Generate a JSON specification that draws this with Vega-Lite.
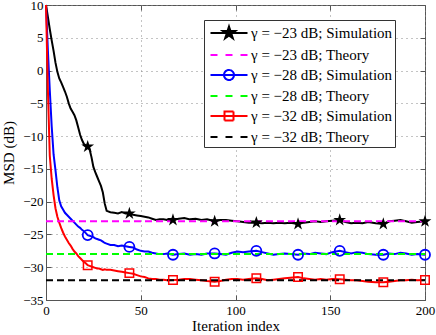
{
  "$schema": "https://vega.github.io/schema/vega-lite/v6.json",
  "width": 379,
  "height": 295,
  "autosize": "none",
  "padding": {"left": 46, "top": 5, "right": 11, "bottom": 35},
  "background": "white",
  "config": {
    "font": "Liberation Serif",
    "view": {"stroke": "#555", "strokeWidth": 1}
  },
  "datasets": {
    "sim": [
      {"iter": 0, "sim23": 10, "sim28": 10, "sim32": 10, "mk": false},
      {"iter": 1, "sim23": 8.2, "sim28": 3.0, "sim32": -3.0, "mk": false},
      {"iter": 2, "sim23": 6.3, "sim28": -3.0, "sim32": -13.0, "mk": false},
      {"iter": 3, "sim23": 4.6, "sim28": -8.5, "sim32": -16.5, "mk": false},
      {"iter": 4, "sim23": 3.0, "sim28": -12.8, "sim32": -19.0, "mk": false},
      {"iter": 5, "sim23": 1.2, "sim28": -15.2, "sim32": -21.0, "mk": false},
      {"iter": 6, "sim23": -0.2, "sim28": -17.8, "sim32": -22.3, "mk": false},
      {"iter": 7, "sim23": -1.2, "sim28": -19.8, "sim32": -23.2, "mk": false},
      {"iter": 8, "sim23": -1.8, "sim28": -20.7, "sim32": -24.0, "mk": false},
      {"iter": 9, "sim23": -2.5, "sim28": -21.2, "sim32": -24.7, "mk": false},
      {"iter": 10, "sim23": -3.2, "sim28": -21.7, "sim32": -25.3, "mk": false},
      {"iter": 11, "sim23": -4.0, "sim28": -22.0, "sim32": -25.8, "mk": false},
      {"iter": 12, "sim23": -5.0, "sim28": -22.3, "sim32": -26.3, "mk": false},
      {"iter": 13, "sim23": -5.8, "sim28": -22.6, "sim32": -26.7, "mk": false},
      {"iter": 14, "sim23": -6.3, "sim28": -22.9, "sim32": -27.2, "mk": false},
      {"iter": 15, "sim23": -6.8, "sim28": -23.2, "sim32": -27.6, "mk": false},
      {"iter": 16, "sim23": -7.6, "sim28": -23.5, "sim32": -27.9, "mk": false},
      {"iter": 17, "sim23": -8.7, "sim28": -23.8, "sim32": -28.3, "mk": false},
      {"iter": 18, "sim23": -9.8, "sim28": -24.0, "sim32": -28.6, "mk": false},
      {"iter": 19, "sim23": -10.6, "sim28": -24.3, "sim32": -28.9, "mk": false},
      {"iter": 20, "sim23": -11.2, "sim28": -24.5, "sim32": -29.2, "mk": false},
      {"iter": 21, "sim23": -11.4, "sim28": -24.8, "sim32": -29.4, "mk": false},
      {"iter": 22, "sim23": -11.6, "sim28": -25.1, "sim32": -29.7, "mk": true},
      {"iter": 23, "sim23": -12.0, "sim28": -25.2, "sim32": -29.8, "mk": false},
      {"iter": 24, "sim23": -13.2, "sim28": -25.3, "sim32": -29.9, "mk": false},
      {"iter": 25, "sim23": -14.7, "sim28": -25.4, "sim32": -30.0, "mk": false},
      {"iter": 26, "sim23": -15.5, "sim28": -25.6, "sim32": -30.1, "mk": false},
      {"iter": 27, "sim23": -16.2, "sim28": -25.7, "sim32": -30.2, "mk": false},
      {"iter": 28, "sim23": -16.9, "sim28": -25.8, "sim32": -30.2, "mk": false},
      {"iter": 29, "sim23": -17.6, "sim28": -25.9, "sim32": -30.3, "mk": false},
      {"iter": 30, "sim23": -18.6, "sim28": -26.1, "sim32": -30.4, "mk": false},
      {"iter": 31, "sim23": -20.3, "sim28": -26.3, "sim32": -30.3, "mk": false},
      {"iter": 32, "sim23": -21.4, "sim28": -26.4, "sim32": -30.4, "mk": false},
      {"iter": 34, "sim23": -21.6, "sim28": -26.6, "sim32": -30.4, "mk": false},
      {"iter": 36, "sim23": -21.7, "sim28": -26.6, "sim32": -30.5, "mk": false},
      {"iter": 38, "sim23": -21.8, "sim28": -26.8, "sim32": -30.6, "mk": false},
      {"iter": 40, "sim23": -21.6, "sim28": -26.7, "sim32": -30.7, "mk": false},
      {"iter": 42, "sim23": -21.8, "sim28": -26.8, "sim32": -30.8, "mk": false},
      {"iter": 44, "sim23": -21.8, "sim28": -26.9, "sim32": -30.9, "mk": true},
      {"iter": 46, "sim23": -22.0, "sim28": -27.0, "sim32": -31.0, "mk": false},
      {"iter": 48, "sim23": -22.1, "sim28": -27.3, "sim32": -31.2, "mk": false},
      {"iter": 50, "sim23": -22.2, "sim28": -27.5, "sim32": -31.4, "mk": false},
      {"iter": 52, "sim23": -22.3, "sim28": -27.6, "sim32": -31.5, "mk": false},
      {"iter": 54, "sim23": -22.4, "sim28": -27.6, "sim32": -31.7, "mk": false},
      {"iter": 56, "sim23": -22.6, "sim28": -27.8, "sim32": -31.8, "mk": false},
      {"iter": 58, "sim23": -22.8, "sim28": -27.9, "sim32": -31.8, "mk": false},
      {"iter": 60, "sim23": -22.7, "sim28": -28.0, "sim32": -31.9, "mk": false},
      {"iter": 62, "sim23": -22.7, "sim28": -28.0, "sim32": -31.9, "mk": false},
      {"iter": 64, "sim23": -22.8, "sim28": -27.9, "sim32": -32.0, "mk": false},
      {"iter": 67, "sim23": -22.8, "sim28": -28.1, "sim32": -31.95, "mk": true},
      {"iter": 70, "sim23": -22.6, "sim28": -28.0, "sim32": -31.9, "mk": false},
      {"iter": 73, "sim23": -22.5, "sim28": -27.9, "sim32": -31.8, "mk": false},
      {"iter": 76, "sim23": -22.7, "sim28": -28.1, "sim32": -31.8, "mk": false},
      {"iter": 79, "sim23": -22.6, "sim28": -28.0, "sim32": -31.9, "mk": false},
      {"iter": 82, "sim23": -22.8, "sim28": -28.1, "sim32": -32.0, "mk": false},
      {"iter": 85, "sim23": -22.7, "sim28": -27.9, "sim32": -32.1, "mk": false},
      {"iter": 89, "sim23": -23.0, "sim28": -27.9, "sim32": -32.2, "mk": true},
      {"iter": 92, "sim23": -22.8, "sim28": -28.0, "sim32": -32.1, "mk": false},
      {"iter": 95, "sim23": -22.8, "sim28": -28.1, "sim32": -31.9, "mk": false},
      {"iter": 98, "sim23": -22.9, "sim28": -27.8, "sim32": -31.8, "mk": false},
      {"iter": 101, "sim23": -23.0, "sim28": -27.6, "sim32": -31.8, "mk": false},
      {"iter": 104, "sim23": -23.1, "sim28": -27.7, "sim32": -31.9, "mk": false},
      {"iter": 107, "sim23": -23.2, "sim28": -27.6, "sim32": -31.8, "mk": false},
      {"iter": 111, "sim23": -23.2, "sim28": -27.5, "sim32": -31.7, "mk": true},
      {"iter": 114, "sim23": -23.3, "sim28": -27.7, "sim32": -31.8, "mk": false},
      {"iter": 117, "sim23": -23.2, "sim28": -27.9, "sim32": -32.0, "mk": false},
      {"iter": 120, "sim23": -23.3, "sim28": -28.1, "sim32": -31.9, "mk": false},
      {"iter": 123, "sim23": -23.2, "sim28": -28.0, "sim32": -31.8, "mk": false},
      {"iter": 126, "sim23": -23.3, "sim28": -27.9, "sim32": -31.7, "mk": false},
      {"iter": 129, "sim23": -23.2, "sim28": -28.0, "sim32": -31.6, "mk": false},
      {"iter": 133, "sim23": -23.4, "sim28": -28.1, "sim32": -31.5, "mk": true},
      {"iter": 136, "sim23": -23.2, "sim28": -27.9, "sim32": -31.7, "mk": false},
      {"iter": 139, "sim23": -23.1, "sim28": -28.0, "sim32": -31.8, "mk": false},
      {"iter": 142, "sim23": -23.0, "sim28": -27.8, "sim32": -31.9, "mk": false},
      {"iter": 145, "sim23": -23.1, "sim28": -27.9, "sim32": -31.8, "mk": false},
      {"iter": 148, "sim23": -23.0, "sim28": -28.0, "sim32": -31.9, "mk": false},
      {"iter": 151, "sim23": -22.9, "sim28": -27.7, "sim32": -31.8, "mk": false},
      {"iter": 155, "sim23": -22.8, "sim28": -27.5, "sim32": -31.85, "mk": true},
      {"iter": 158, "sim23": -23.1, "sim28": -27.7, "sim32": -31.9, "mk": false},
      {"iter": 161, "sim23": -23.3, "sim28": -27.9, "sim32": -32.0, "mk": false},
      {"iter": 164, "sim23": -23.2, "sim28": -27.7, "sim32": -32.0, "mk": false},
      {"iter": 167, "sim23": -23.3, "sim28": -27.8, "sim32": -32.1, "mk": false},
      {"iter": 170, "sim23": -23.1, "sim28": -28.0, "sim32": -32.2, "mk": false},
      {"iter": 174, "sim23": -23.3, "sim28": -28.1, "sim32": -32.3, "mk": false},
      {"iter": 178, "sim23": -23.4, "sim28": -28.1, "sim32": -32.3, "mk": true},
      {"iter": 181, "sim23": -23.0, "sim28": -27.9, "sim32": -32.2, "mk": false},
      {"iter": 184, "sim23": -22.9, "sim28": -28.0, "sim32": -32.1, "mk": false},
      {"iter": 187, "sim23": -22.8, "sim28": -27.8, "sim32": -32.0, "mk": false},
      {"iter": 190, "sim23": -23.0, "sim28": -27.9, "sim32": -32.0, "mk": false},
      {"iter": 193, "sim23": -23.2, "sim28": -28.1, "sim32": -31.9, "mk": false},
      {"iter": 196, "sim23": -23.1, "sim28": -28.0, "sim32": -32.0, "mk": false},
      {"iter": 200, "sim23": -23.0, "sim28": -28.1, "sim32": -31.95, "mk": true}
    ],
    "theory": [
      {"series": "th23", "iter": 0, "msd": -23},
      {"series": "th23", "iter": 200, "msd": -23},
      {"series": "th28", "iter": 0, "msd": -28},
      {"series": "th28", "iter": 200, "msd": -28},
      {"series": "th32", "iter": 0, "msd": -32},
      {"series": "th32", "iter": 200, "msd": -32}
    ]
  },
  "resolve": {"axis": {"x": "independent", "y": "independent"}},
  "layer": [
    {
      "data": {"name": "sim"},
      "transform": [{"fold": ["sim23", "sim28", "sim32"], "as": ["series", "msd"]}],
      "mark": {"type": "line", "strokeWidth": 2},
      "encoding": {
        "x": {"field": "iter", "type": "quantitative",
          "scale": {"domain": [0, 200], "nice": false, "zero": false},
          "axis": {"orient": "bottom", "values": [0, 50, 100, 150, 200], "tickSize": -5, "labelFlush": false,
            "labelFont": "Liberation Serif", "labelFontSize": 13, "labelColor": "#000", "labelPadding": 9,
            "title": "Iteration index", "titleFont": "Liberation Serif", "titleFontSize": 15, "titleFontWeight": "normal", "titleColor": "#000", "titlePadding": 1,
            "grid": true, "gridDash": [1, 4], "gridColor": "#888", "gridWidth": 1,
            "domainColor": "#555", "tickColor": "#555"}},
        "y": {"field": "msd", "type": "quantitative",
          "scale": {"domain": [-35, 10], "nice": false, "zero": false},
          "axis": {"orient": "left", "values": [-35, -30, -25, -20, -15, -10, -5, 0, 5, 10], "tickSize": -5, "labelFlush": false,
            "labelFont": "Liberation Serif", "labelFontSize": 13, "labelColor": "#000", "labelPadding": 8,
            "title": "MSD (dB)", "titleFont": "Liberation Serif", "titleFontSize": 15, "titleFontWeight": "normal", "titleColor": "#000", "titlePadding": 6,
            "grid": true, "gridDash": [1, 4], "gridColor": "#888", "gridWidth": 1,
            "domainColor": "#555", "tickColor": "#555"}},
        "color": {"field": "series", "type": "nominal",
          "scale": {"domain": ["sim23", "th23", "sim28", "th28", "sim32", "th32"],
                    "range": ["#000000", "#ff00ff", "#0000ff", "#00ff00", "#ff0000", "#000000"]},
          "legend": {"title": null, "orient": "none", "legendX": 158, "legendY": 15,
            "labelExpr": "{'sim23': 'γ = −23 dB; Simulation\u2003', 'th23': 'γ = −23 dB; Theory', 'sim28': 'γ = −28 dB; Simulation', 'th28': 'γ = −28 dB; Theory', 'sim32': 'γ = −32 dB; Simulation', 'th32': 'γ = −32 dB; Theory'}[datum.value]",
            "labelFont": "Liberation Serif", "labelFontSize": 15, "labelColor": "#000", "labelOffset": 11, "labelLimit": 300,
            "symbolSize": 400, "symbolOffset": 12, "symbolStrokeWidth": 2, "rowPadding": 1,
            "padding": 2, "strokeColor": "#333", "fillColor": "#ffffff",
            "encode": {"symbols": {"update": {
              "shape": {"signal": "['M-1.85,0H1.85M0,-0.65L0.146,-0.201L0.618,-0.201L0.236,0.077L0.382,0.526L0,0.248L-0.382,0.526L-0.236,0.077L-0.618,-0.201L-0.146,-0.201Z', 'M-1.85,0H-1.15M-0.35,0H0.35M1.15,0H1.85', 'M-1.85,0H1.85M0.5,0A0.5,0.5,0,1,1,-0.5,0A0.5,0.5,0,1,1,0.5,0Z', 'M-1.85,0H-1.15M-0.35,0H0.35M1.15,0H1.85', 'M-1.85,0H1.85M-0.45,-0.45H0.45V0.45H-0.45Z', 'M-1.85,0H-1.15M-0.35,0H0.35M1.15,0H1.85'][datum.index]"},
              "fill": {"signal": "datum.index === 0 ? '#000000' : 'transparent'"},
              "strokeDash": {"value": [1, 0]}
            }}}}}
      }
    },
    {
      "data": {"name": "theory"},
      "mark": {"type": "line", "strokeWidth": 2, "strokeDash": [7, 4]},
      "encoding": {
        "x": {"field": "iter", "type": "quantitative",
          "axis": {"orient": "top", "values": [0, 50, 100, 150, 200], "labels": false, "title": null, "grid": false, "domain": false, "tickSize": -5, "tickColor": "#555"}},
        "y": {"field": "msd", "type": "quantitative",
          "axis": {"orient": "right", "values": [-35, -30, -25, -20, -15, -10, -5, 0, 5, 10], "labels": false, "title": null, "grid": false, "domain": false, "tickSize": -5, "tickColor": "#555"}},
        "color": {"field": "series", "type": "nominal"}
      }
    },
    {
      "data": {"name": "sim"},
      "transform": [{"filter": "datum.mk"}],
      "mark": {"type": "point", "filled": true, "color": "#000000", "size": 180, "opacity": 1,
        "shape": "M0,-1L0.225,-0.309L0.951,-0.309L0.363,0.118L0.588,0.809L0,0.382L-0.588,0.809L-0.363,0.118L-0.951,-0.309L-0.225,-0.309Z"},
      "encoding": {
        "x": {"field": "iter", "type": "quantitative", "axis": null},
        "y": {"field": "sim23", "type": "quantitative", "axis": null}
      }
    },
    {
      "data": {"name": "sim"},
      "transform": [{"filter": "datum.mk"}],
      "mark": {"type": "point", "filled": false, "color": "#0000ff", "size": 100, "strokeWidth": 1.8, "opacity": 1, "shape": "circle"},
      "encoding": {
        "x": {"field": "iter", "type": "quantitative", "axis": null},
        "y": {"field": "sim28", "type": "quantitative", "axis": null}
      }
    },
    {
      "data": {"name": "sim"},
      "transform": [{"filter": "datum.mk"}],
      "mark": {"type": "point", "filled": false, "color": "#ff0000", "size": 72, "strokeWidth": 1.5, "opacity": 1, "shape": "square"},
      "encoding": {
        "x": {"field": "iter", "type": "quantitative", "axis": null},
        "y": {"field": "sim32", "type": "quantitative", "axis": null}
      }
    }
  ]
}
